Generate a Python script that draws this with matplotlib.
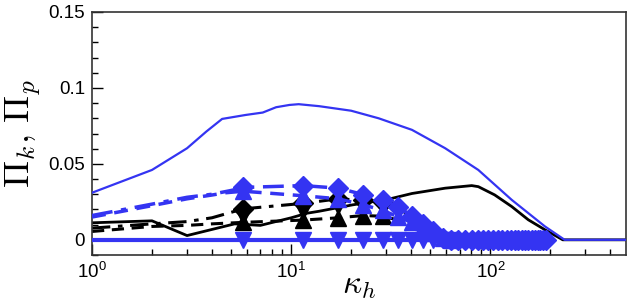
import numpy as np
import matplotlib
matplotlib.use("Agg")
import matplotlib.pyplot as plt
from matplotlib.ticker import FixedLocator, FuncFormatter, NullFormatter

plt.rcParams['font.family'] = ['Liberation Sans', 'DejaVu Sans']
plt.rcParams['mathtext.fontset'] = 'cm'

BLUE = "#3434f2"

# big blue curve
k_big = [1, 2, 3, 3.75, 4.5, 5.9, 7.2, 8.4, 9.8, 10.9, 13.8, 20, 27.5, 40.4, 59.3, 87, 128, 188, 236, 480]
v_big = [0.031, 0.046, 0.0603, 0.0713, 0.0796, 0.0822, 0.0838, 0.0873, 0.0888, 0.0893, 0.088, 0.085,
         0.080, 0.0724, 0.0603, 0.046, 0.0263, 0.0088, 0.0, 0.0]

# black solid curve
k_blk = [1, 2, 3, 5.2, 7, 10, 12, 13.8, 20.3, 30.9, 40.4, 59.3, 80.6, 87, 105, 128, 155, 188, 231, 480]
v_blk = [0.0112, 0.0125, 0.0028, 0.0105, 0.0095, 0.0145, 0.0175, 0.0188, 0.023, 0.0268, 0.0305, 0.034,
         0.0357, 0.035, 0.0296, 0.0219, 0.0132, 0.0066, 0.0, 0.0]

# marker grid (every 6th mode)
k_mark = 5.75 * np.arange(1, 34)

# blue dash-dot with diamonds
k_bdd_left = [1, 2, 3, 4, 5]
v_bdd_left = [0.016, 0.0235, 0.028, 0.030, 0.0325]
v_bdd = [0.0345, 0.0357, 0.034, 0.0298, 0.0265, 0.0215, 0.016, 0.0105, 0.0055, 0.0015] + [0.0] * 23

# blue dashed with up triangles
k_bdu_left = [1, 2, 3, 4, 4.7]
v_bdu_left = [0.015, 0.0225, 0.027, 0.0295, 0.031]
v_bdu = [0.032, 0.029, 0.027, 0.023, 0.0195, 0.015, 0.0115, 0.0085, 0.0045, 0.001, 0.0]

# blue zero line with down triangles
k_bzero = [1, 63.25]
v_bzero = [0.0, 0.0]
v_bdn = [0.0] * 11

# black dash-dot with diamonds
k_kdd_left = [1, 2, 3, 4]
v_kdd_left = [0.0077, 0.0105, 0.012, 0.0145]
v_kdd = [0.0204, 0.024, 0.027, 0.026, 0.025, 0.021, 0.015, 0.008, 0.0]

# black down triangles
v_kdn = [0.0155, 0.019, 0.022, 0.022, 0.021]

# black dashed with up triangles
k_kdu_left = [1, 2, 3, 4]
v_kdu_left = [0.0055, 0.0088, 0.0095, 0.0105]
v_kdu = [0.0115, 0.013, 0.0145, 0.016, 0.0155, 0.013, 0.009, 0.005, 0.0]

fig = plt.figure(figsize=(6.32, 3.03), dpi=100)
ax = fig.add_axes([0.1456, 0.1584, 0.845, 0.802])

MS_D = 10
MS_T = 11

# black series
n = len(v_kdd)
ax.plot(k_kdd_left + list(k_mark[:n]), v_kdd_left + v_kdd, color="k", lw=2.2,
        dashes=(6, 2.5, 1.5, 2.5), zorder=2)
ax.plot(k_mark[:5], v_kdd[:5], "D", color="k", ms=MS_D, zorder=3)
n = len(v_kdu)
ax.plot(k_kdu_left + list(k_mark[:n]), v_kdu_left + v_kdu, color="k", lw=2.2,
        dashes=(4, 2.5), zorder=2)
ax.plot(k_mark[:5], v_kdu[:5], "^", color="k", ms=MS_T, zorder=3)
ax.plot(k_mark[:5], v_kdn, "v", color="k", ms=MS_T, zorder=3)
ax.plot(k_blk, v_blk, color="k", lw=2.0, zorder=2)

# blue series
ax.plot(k_big, v_big, color=BLUE, lw=1.6, zorder=4)
ax.plot(k_bzero, v_bzero, color=BLUE, lw=3.0, zorder=4)
ax.plot(k_mark[:len(v_bdn)], v_bdn, "v", color=BLUE, ms=MS_T, zorder=5)
n = len(v_bdu)
ax.plot(k_bdu_left + list(k_mark[:n]), v_bdu_left + v_bdu, color=BLUE, lw=2.5,
        dashes=(4, 2.5), zorder=4)
ax.plot(k_mark[:n], v_bdu, "^", color=BLUE, ms=MS_T, zorder=5)
n = len(v_bdd)
ax.plot(k_bdd_left + list(k_mark[:n]), v_bdd_left + v_bdd, color=BLUE, lw=2.5,
        dashes=(6, 2.5, 1.5, 2.5), zorder=4)
ax.plot(k_mark, v_bdd, "D", color=BLUE, ms=MS_D, zorder=6)

ax.set_xscale("log")
ax.set_xlim(1, 480)
ax.set_ylim(-0.01, 0.15)

ax.xaxis.set_major_locator(FixedLocator([1, 10, 100]))
ax.xaxis.set_major_formatter(FuncFormatter(lambda v, p: r"$\mathregular{10^{%d}}$" % round(np.log10(v))))
ax.xaxis.set_minor_locator(FixedLocator([d * 10.0 ** e for e in range(0, 3) for d in range(2, 10)]))
ax.xaxis.set_minor_formatter(NullFormatter())
ax.yaxis.set_major_locator(FixedLocator([0, 0.05, 0.1, 0.15]))
ax.yaxis.set_major_formatter(FuncFormatter(lambda v, p: "%g" % round(v, 3)))
ax.yaxis.set_minor_locator(FixedLocator(np.arange(-0.01, 0.151, 0.01)))

ax.tick_params(which="both", direction="in", top=False, right=False, labelsize=13.5, width=1.0)
ax.tick_params(which="major", length=8, pad=5)
ax.tick_params(which="minor", length=4)
for s in ax.spines.values():
    s.set_linewidth(1.2)
    s.set_color("#333333")

ax.set_xlabel(r"$\kappa_h$", fontsize=24, labelpad=-9)
ax.set_ylabel(r"$\Pi_k,\, \Pi_p$", fontsize=26, labelpad=4)

fig.savefig("out.png", dpi=100)
